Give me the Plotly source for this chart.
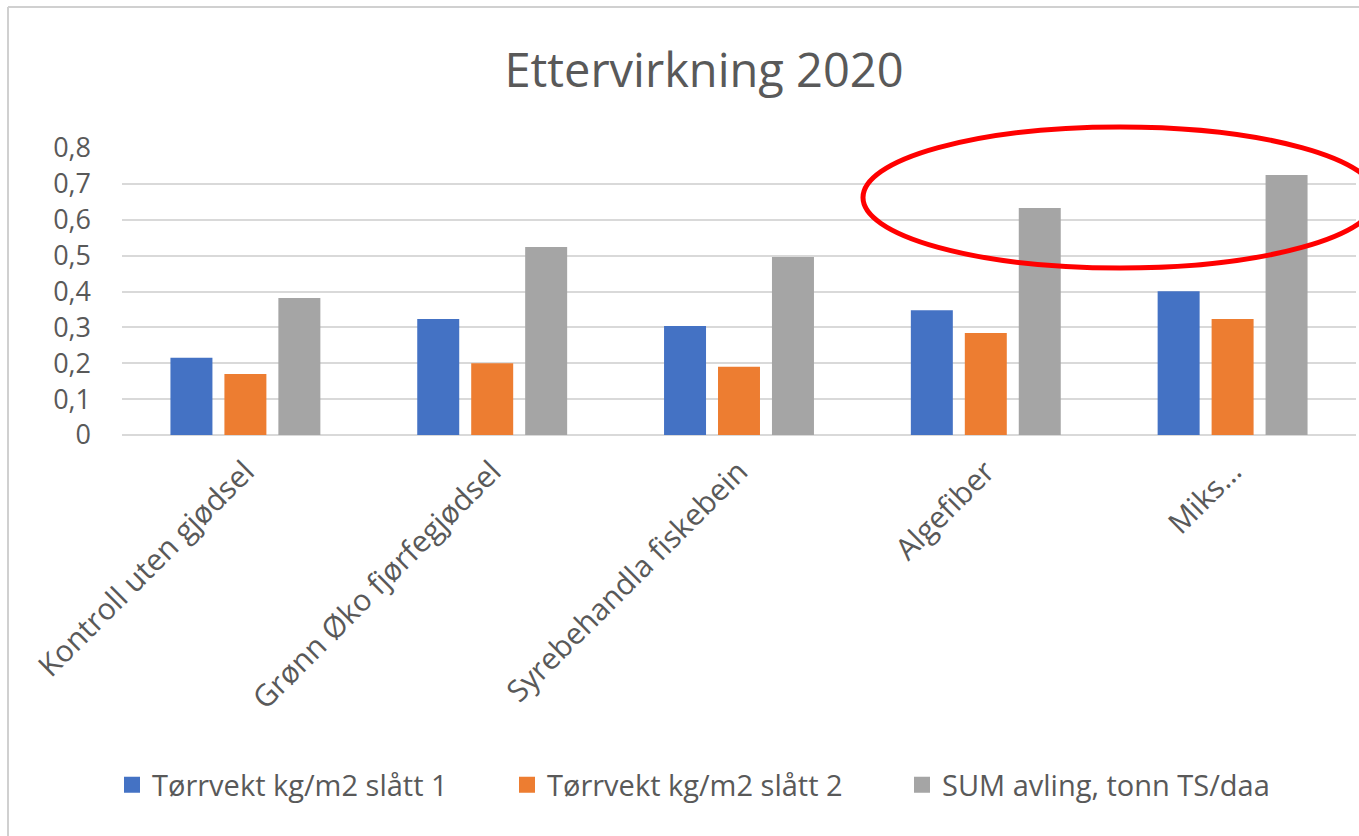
import plotly.graph_objects as go

W, H = 1359, 836

categories = ["Kontroll uten gjødsel", "Grønn Øko fjørfegjødsel", "Syrebehandla fiskebein", "Algefiber", "Miks…"]
series_names = ["Tørrvekt kg/m2 slått 1", "Tørrvekt kg/m2 slått 2", "SUM avling, tonn TS/daa"]
slatt1 = [0.215, 0.323, 0.304, 0.348, 0.401]
slatt2 = [0.170, 0.200, 0.190, 0.284, 0.323]
sum_avling = [0.382, 0.524, 0.496, 0.633, 0.725]
colors = ["#4472C4", "#ED7D31", "#A5A5A5"]
y_tickvals = [0, 0.1, 0.2, 0.3, 0.4, 0.5, 0.6, 0.7, 0.8]
y_ticktext = ["0", "0,1", "0,2", "0,3", "0,4", "0,5", "0,6", "0,7", "0,8"]
title_text = "Ettervirkning 2020"

FONT = "Open Sans"
TXT = "#595959"
GRID = "#D9D9D9"

fig = go.Figure()
for name, vals, c in zip(series_names, [slatt1, slatt2, sum_avling], colors):
    fig.add_trace(go.Bar(name=name, x=categories, y=vals, showlegend=False,
                         marker=dict(color=c, line=dict(width=0))))
# legend entries with larger square swatches
for name, c in zip(series_names, colors):
    fig.add_trace(go.Scatter(name=name, x=[None], y=[None], mode="markers",
                             marker=dict(symbol="square", size=17, color=c), showlegend=True))

def px(x):
    return x / W

def py(y):
    return 1 - y / H

shapes = [
    dict(type="circle", xref="paper", yref="paper",
         x0=px(863), x1=px(1377), y0=py(268), y1=py(127),
         line=dict(color="#FF0000", width=5), layer="above"),
    dict(type="line", xref="paper", yref="paper", x0=px(8), x1=px(8), y0=py(7), y1=0,
         line=dict(color="#D0D0D0", width=2)),
    dict(type="line", xref="paper", yref="paper", x0=px(8), x1=1, y0=py(7), y1=py(7),
         line=dict(color="#D0D0D0", width=2)),
]

fig.update_layout(
    width=W, height=H,
    margin=dict(l=0, r=0, t=0, b=0),
    paper_bgcolor="white", plot_bgcolor="white",
    font=dict(family=FONT, color=TXT, size=24),
    barmode="group", bargap=0.344, bargroupgap=0.222,
    title=dict(text=title_text, x=px(704), xanchor="center", y=py(71), yanchor="middle",
               font=dict(family=FONT, size=47, color=TXT)),
    xaxis=dict(domain=[px(122), px(1356)], showgrid=False, showline=False, zeroline=False,
               tickangle=-45, tickfont=dict(size=30, color=TXT), ticks="", automargin=False,
               ticklabelstandoff=12),
    yaxis=dict(domain=[py(435), py(148)], range=[0, 0.8], tickvals=y_tickvals, ticktext=y_ticktext,
               showgrid=True, gridcolor=GRID, gridwidth=1.5, zeroline=True, zerolinecolor=GRID,
               zerolinewidth=1.5, showline=False, ticks="", ticklen=0,
               tickfont=dict(size=27, color=TXT), automargin=False, ticklabelstandoff=30),
    legend=dict(orientation="h", x=px(112), xanchor="left", y=py(785), yanchor="middle",
                font=dict(size=29, color=TXT), entrywidth=350, itemwidth=30),
    shapes=shapes,
    showlegend=True,
)

fig.write_html("out.html")
